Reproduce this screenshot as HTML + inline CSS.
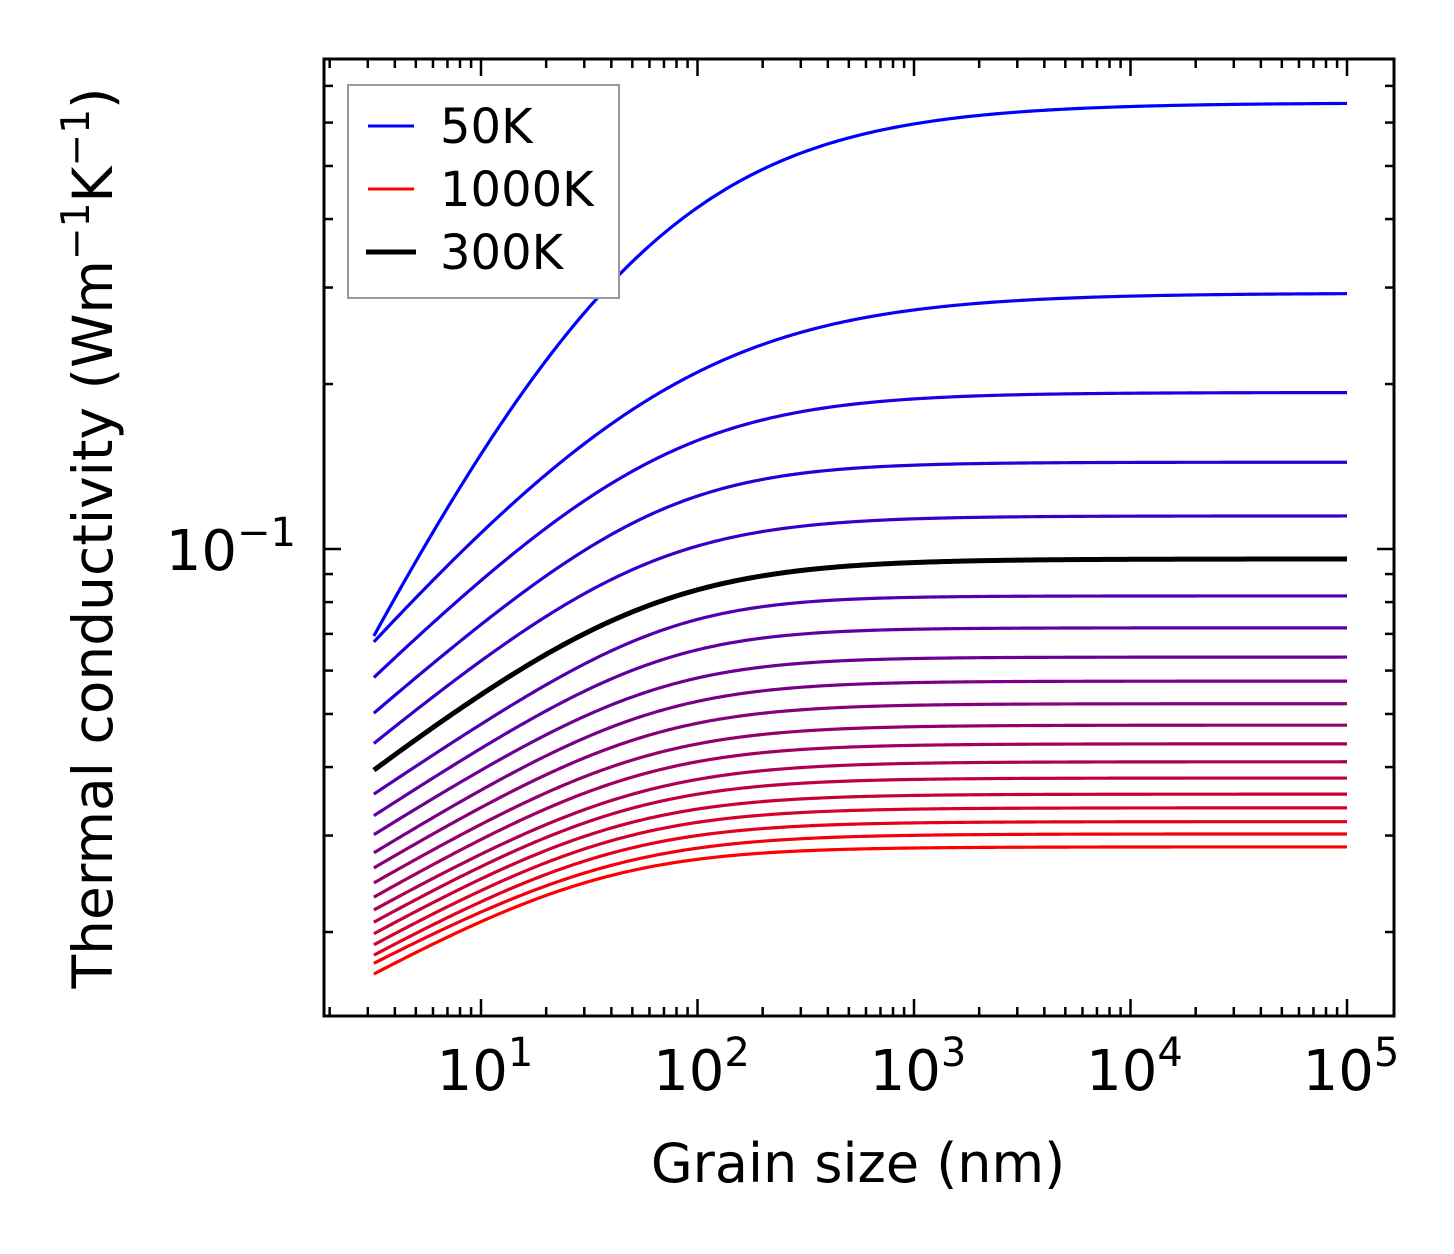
<!DOCTYPE html>
<html><head><meta charset="utf-8"><style>
html,body{margin:0;padding:0;background:#fff;}
svg{display:block;font-family:"DejaVu Sans","Liberation Sans",sans-serif;}
</style></head><body>
<svg id="chart" width="1454" height="1254" viewBox="0 0 1454 1254" xmlns="http://www.w3.org/2000/svg">
<rect width="1454" height="1254" fill="#fff"/>
<g id="curves"></g>
<g id="ticks"></g>
<rect x="324" y="59" width="1070" height="957" fill="none" stroke="#000" stroke-width="3"/>
<text x="296" y="570" font-size="56" text-anchor="end">10<tspan dy="-24" font-size="40">−1</tspan></text>
<g id="xlabels"></g>
<text x="858" y="1182" font-size="54" text-anchor="middle">Grain size (nm)</text>
<text transform="translate(112,538) rotate(-90)" font-size="55" text-anchor="middle">Thermal conductivity (Wm<tspan dy="-23" font-size="39">−1</tspan><tspan dy="23">K</tspan><tspan dy="-23" font-size="39">−1</tspan><tspan dy="23">)</tspan></text>
<g>
<rect x="348" y="85" width="271" height="213" fill="#fff" stroke="#999" stroke-width="2"/>
<line x1="368" y1="126" x2="414" y2="126" stroke="#0000ff" stroke-width="3"/>
<text x="440" y="143" font-size="48">50K</text>
<line x1="368" y1="189" x2="414" y2="189" stroke="#ff0000" stroke-width="3"/>
<text x="440" y="206" font-size="48">1000K</text>
<line x1="366" y1="252" x2="416" y2="252" stroke="#000" stroke-width="5"/>
<text x="440" y="269" font-size="48">300K</text>
</g>
</svg>
<script>
// Data (W m^-1 K^-1) at grain sizes 3.2, 10, 100, 1000 nm and bulk (1e5 nm)
const grainSizes = [3.2, 10, 100, 1000, 100000];
const kAt3nm = [0.0712,0.0677,0.0582,0.0502,0.0441,0.0395,0.0356,0.0326,0.0301,0.0279,0.0262,0.0246,0.0232,0.0220,0.0209,0.0199,0.0190,0.0182,0.0176,0.0168];
const kAt10nm = [0.1411,0.1070,0.0878,0.0727,0.0627,0.0542,0.0481,0.0433,0.0395,0.0363,0.0337,0.0314,0.0294,0.0276,0.0262,0.0249,0.0237,0.0226,0.0216,0.0208];
const kAt100nm = [0.447,0.209,0.158,0.125,0.1009,0.0842,0.0742,0.0655,0.0582,0.0528,0.0482,0.0442,0.0411,0.0382,0.0359,0.0337,0.0319,0.0302,0.0287,0.0273];
const kAt1000nm = [0.5645,0.2764,0.1855,0.1424,0.1139,0.0947,0.0808,0.0707,0.0625,0.0565,0.0515,0.0470,0.0435,0.0404,0.0377,0.0353,0.0333,0.0315,0.0299,0.0283];
const kBulk = [0.652,0.293,0.193,0.144,0.1149,0.0959,0.0821,0.0718,0.0635,0.0574,0.0522,0.0477,0.0441,0.0409,0.0382,0.0357,0.0337,0.0318,0.0302,0.0286];
const highlightIndex = 5;
const xTickLabels = ["1","2","3","4","5"];

const NS="http://www.w3.org/2000/svg";
const X0=324,X1=1394,Y0=59,Y1=1016;
const xDec=216.5, xRef=481;
function xs(v){return xRef+(Math.log10(v)-1)*xDec;}
const yDec=548, yRef=549;
function ys(v){return yRef-(Math.log10(v)+1)*yDec;}

function model(L,kinf,a,q,p){return kinf/Math.pow(1+Math.pow(Math.pow(10,a)/L,q),p);}
function fitCurve(kinf,pts){
  const err=(a,q,p)=>{let s=0;for(const [L,k] of pts){const r=Math.log10(model(L,kinf,a,q,p))-Math.log10(k);s+=r*r;}return s;};
  let best=[1,1,1],be=Infinity;
  for(let a=-1;a<=5;a+=0.1)for(let q=0.3;q<=2.5;q+=0.05)for(let p=0.1;p<=3;p+=0.1){
    const e=err(a,q,p); if(e<be){be=e;best=[a,q,p];}
  }
  let st=[0.05,0.025,0.05];
  for(let it=0;it<60;it++){
    let improved=false;
    for(let j=0;j<3;j++)for(const sg of [-1,1]){
      const c=best.slice(); c[j]+=sg*st[j];
      if(c[1]<=0.05||c[2]<=0.02) continue;
      const e=err(c[0],c[1],c[2]); if(e<be){be=e;best=c;improved=true;}
    }
    if(!improved) st=st.map(s=>s/2);
  }
  return best;
}
const gC=document.getElementById('curves');
const n=kBulk.length;
const order=[];for(let i=n-1;i>=0;i--) if(i!==highlightIndex) order.push(i); order.push(highlightIndex);
const lx=grainSizes.map(Math.log10);
order.forEach(i=>{
  const pts=[[grainSizes[0],kAt3nm[i]],[grainSizes[1],kAt10nm[i]],[grainSizes[2],kAt100nm[i]],[grainSizes[3],kAt1000nm[i]]];
  const [a,q,p]=fitCurve(kBulk[i],pts);
  let d="";
  for(let s=0;s<=300;s++){
    const u=lx[0]+(lx[lx.length-1]-lx[0])*s/300;
    const L=Math.pow(10,u);
    d+=(s?"L":"M")+xs(L).toFixed(2)+","+ys(model(L,kBulk[i],a,q,p)).toFixed(2);
  }
  const path=document.createElementNS(NS,'path');
  path.setAttribute('d',d);
  const c=i/(n-1);
  const col=i===highlightIndex?'#000':`rgb(${Math.round(255*c)},0,${Math.round(255*(1-c))})`;
  path.setAttribute('stroke',col);
  path.setAttribute('stroke-width',i===highlightIndex?5:3.2);
  path.setAttribute('fill','none');
  path.setAttribute('stroke-linejoin','round');
  
  
  gC.appendChild(path);
});
const gT=document.getElementById('ticks');
function tick(x1,y1,x2,y2,w){
  const l=document.createElementNS(NS,'line');
  l.setAttribute('x1',x1);l.setAttribute('y1',y1);l.setAttribute('x2',x2);l.setAttribute('y2',y2);
  l.setAttribute('stroke','#000');l.setAttribute('stroke-width',w);
  
  
  gT.appendChild(l);
}
for(let e=0;e<=5;e++){for(let m=1;m<=9;m++){
  const x=xs(m*Math.pow(10,e)); if(x<X0+1||x>X1-1) continue;
  const len=m===1?17:9;
  tick(x,Y1,x,Y1-len,2.5); tick(x,Y0,x,Y0+len,2.5);
}}
for(let e=-2;e<=-1;e++){for(let m=1;m<=9;m++){
  const y=ys(m*Math.pow(10,e)); if(y<Y0+1||y>Y1-1) continue;
  const len=(e===-1&&m===1)?17:9;
  tick(X0,y,X0+len,y,2.5); tick(X1,y,X1-len,y,2.5);
}}
const gX=document.getElementById('xlabels');
xTickLabels.forEach(s=>{
  const t=document.createElementNS(NS,'text');
  t.setAttribute('x',xs(Math.pow(10,+s))+4);t.setAttribute('y',1090);
  t.setAttribute('font-size','56');t.setAttribute('text-anchor','middle');
  t.innerHTML='10<tspan dy="-24" font-size="40">'+s+'</tspan>';
  
  
  gX.appendChild(t);
});
</script>
</body></html>
